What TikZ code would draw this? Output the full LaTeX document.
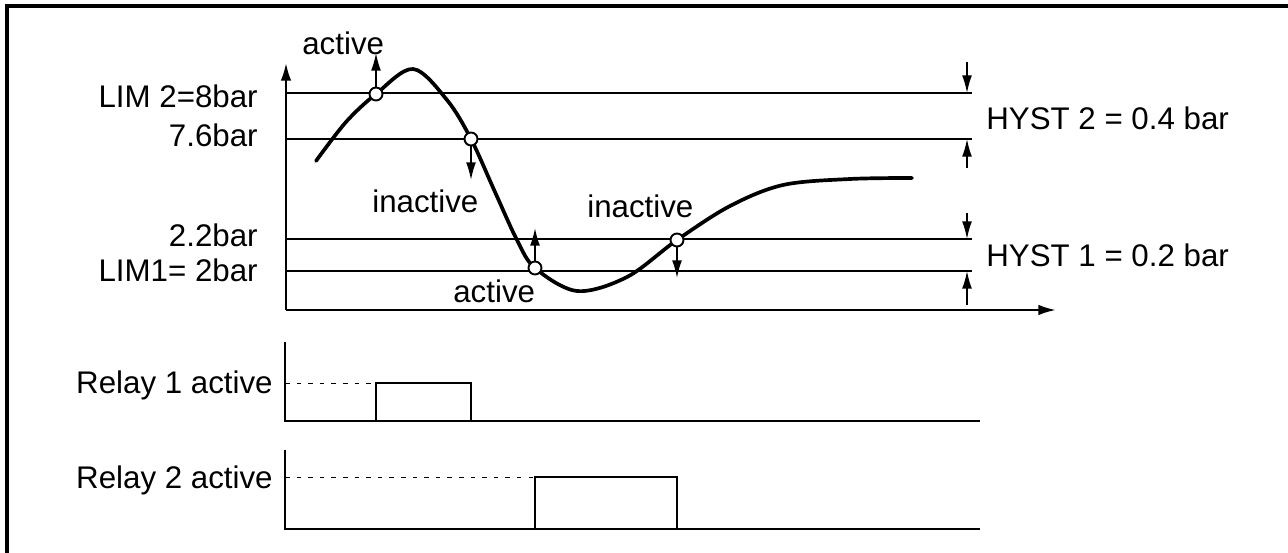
\documentclass[tikz,border=0pt]{standalone}
\usepackage{fontspec}
\setmainfont{Liberation Sans}
\usepackage{xcolor}
\usetikzlibrary{arrows.meta}
\definecolor{ink}{HTML}{000000}
\tikzset{
  lbl/.style={font=\fontsize{17.8}{21}\selectfont,inner sep=0pt,text=ink},
  frameline/.style={draw=ink,line width=1.8pt},
  axisline/.style={draw=ink,line width=1.3pt},
  limline/.style={draw=ink,line width=0.6pt},
  signal/.style={draw=ink,line width=2.1pt,line cap=round},
  switchpt/.style={circle,draw=ink,fill=white,line width=1.1pt,
                   minimum size=0.26cm,inner sep=0pt},
  smallarr/.style={-{Latex[length=10pt,width=5.6pt]},draw=ink,line width=0.9pt},
  axisarr/.style={-{Latex[length=10pt,width=6pt]}},
  relaybox/.style={draw=ink,line width=0.6pt},
  relaydash/.style={draw=ink,line width=0.55pt,dash pattern=on 2.6pt off 4pt}
}
\begin{document}
\begin{tikzpicture}[x=0.02cm,y=-0.02cm]
    \path[use as bounding box] (0,0) rectangle (1288,553);
    \draw[frameline] (7,553) -- (7,6) -- (1288,6);
    % axes of the pressure chart
    \coordinate (orig) at (286,310);
    \coordinate (ytip) at (286,63);
    \coordinate (xtip) at (1056,310);
    \draw[axisline,axisarr] (orig) -- (ytip);
    \draw[axisline,axisarr] (orig) -- (xtip);
    % limit and reset lines
    \foreach \y/\nm in {93/limtwo,139/rsttwo,239/rstone,271/limone}{
      \coordinate (\nm-l) at (286,\y);
      \coordinate (\nm-r) at (972,\y);
      \draw[limline] (\nm-l) -- (\nm-r);
    }
    \node[lbl,anchor=base east] (limtwolbl) at (258,108) {LIM 2=8bar};
    \node[lbl,anchor=base east] (rsttwolbl) at (258,147) {7.6bar};
    \node[lbl,anchor=base east] (rstonelbl) at (258,247) {2.2bar};
    \node[lbl,anchor=base east] (limonelbl) at (258,282) {LIM1= 2bar};
    % pressure curve
    \draw[signal] plot[smooth,tension=0.55] coordinates {
      (316,161) (346,122) (376,94) (413,69) (447,100) (471,139) (495,192)
      (517,240) (535,268) (577,291) (627,277) (677,240) (730,206)
      (783,185) (850,179) (912,178)};
    \node[switchpt] (sw1) at (376,94) {};
    \node[switchpt] (sw2) at (471,139) {};
    \node[switchpt] (sw3) at (535,268) {};
    \node[switchpt] (sw4) at (677,240) {};
    \coordinate (up1) at (376,53);
    \coordinate (dn2) at (471,180);
    \coordinate (up3) at (535,228);
    \coordinate (dn4) at (677,278);
    \draw[smallarr] (sw1) -- (up1);
    \draw[smallarr] (sw2) -- (dn2);
    \draw[smallarr] (sw3) -- (up3);
    \draw[smallarr] (sw4) -- (dn4);
    \node[lbl,anchor=base west] (act1) at (302,55) {active};
    \node[lbl,anchor=base west] (inact1) at (372,213) {inactive};
    \node[lbl,anchor=base west] (act2) at (453,303) {active};
    \node[lbl,anchor=base west] (inact2) at (587,218) {inactive};
    % hysteresis marks
    \coordinate (h2a) at (967,62);
    \coordinate (h2b) at (967,168);
    \coordinate (h1a) at (967,213);
    \coordinate (h1b) at (967,305);
    \draw[smallarr] (h2a) -- (h2a |- limtwo-r);
    \draw[smallarr] (h2b) -- (h2b |- rsttwo-r);
    \draw[smallarr] (h1a) -- (h1a |- rstone-r);
    \draw[smallarr] (h1b) -- (h1b |- limone-r);
    \node[lbl,anchor=base west] (hyst2) at (986,130) {HYST 2 = 0.4 bar};
    \node[lbl,anchor=base west] (hyst1) at (986,267) {HYST 1 = 0.2 bar};
    % relay 1
    \coordinate (r1top) at (285,342);
    \coordinate (r1base) at (285,421);
    \coordinate (r1end) at (980,421);
    \coordinate (r1on) at (285,383);
    \draw[axisline] (r1top) -- (r1base) -- (r1end);
    \draw[relaydash] (r1on) -- (sw1 |- r1on);
    \draw[relaybox] (sw1 |- r1base) -- (sw1 |- r1on) -- (sw2 |- r1on) -- (sw2 |- r1base);
    \node[lbl,anchor=base east] (relay1) at (273,394) {Relay 1 active};
    % relay 2
    \coordinate (r2top) at (285,450);
    \coordinate (r2base) at (285,529);
    \coordinate (r2end) at (980,529);
    \coordinate (r2on) at (285,477);
    \draw[axisline] (r2top) -- (r2base) -- (r2end);
    \draw[relaydash] (r2on) -- (sw3 |- r2on);
    \draw[relaybox] (sw3 |- r2base) -- (sw3 |- r2on) -- (sw4 |- r2on) -- (sw4 |- r2base);
    \node[lbl,anchor=base east] (relay2) at (273,489) {Relay 2 active};
\end{tikzpicture}
\end{document}
